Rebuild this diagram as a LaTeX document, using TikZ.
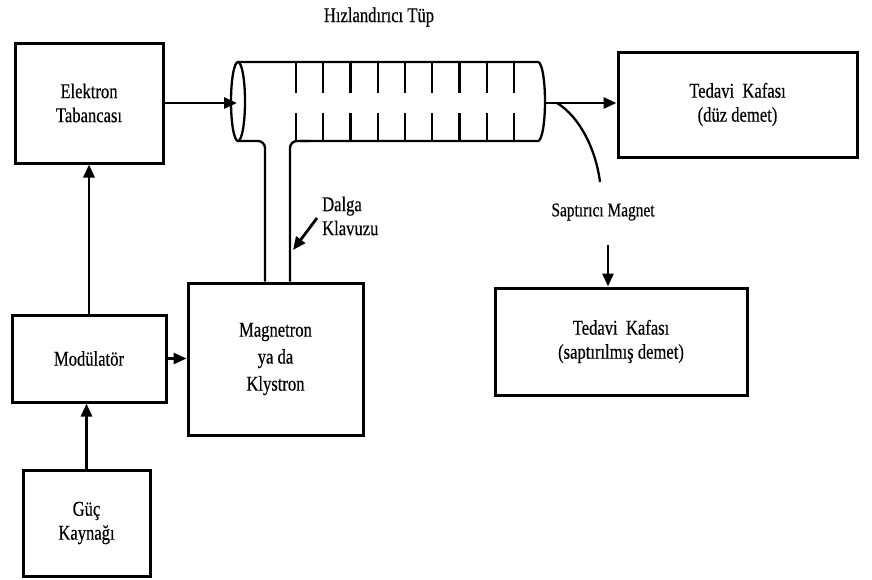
\documentclass[tikz,border=0pt]{standalone}
\usepackage{fontspec}
\setmainfont{Liberation Serif}[FakeStretch=0.79, FakeBold=0.4]
\usetikzlibrary{arrows.meta}

\begin{document}
\begin{tikzpicture}[
    x=1pt, y=-1pt,
    every node/.style={font=\fontsize{21}{24}\selectfont, align=center},
    box/.style={draw, line width=3pt, inner sep=0pt},
    small/.style={font=\fontsize{19.5}{22}\selectfont},
    flow/.style={-{Triangle[length=13pt,width=11pt]}, line width=2.8pt},
    tube/.style={line width=2.3pt}
]
\useasboundingbox (0,0) rectangle (872,579);
% blocks
\node[box, minimum width=148pt, minimum height=120pt] (gun) at (89,103) {Elektron\\Tabancası};
\node[box, minimum width=154pt, minimum height=87pt] (mod) at (89,358.5) {Modülatör};
\node[box, minimum width=127pt, minimum height=106pt] (power) at (86.5,523) {Güç\\Kaynağı};
\node[box, minimum width=175pt, minimum height=152pt] (mag) at (275.5,359) {Magnetron\\[3pt]ya da\\[3pt]Klystron};
\node[box, minimum width=239pt, minimum height=105pt] (straight) at (737.5,104.5) {Tedavi\ \ Kafası\\(düz demet)};
\node[box, minimum width=252pt, minimum height=107pt] (bent) at (621,341.5) {Tedavi\ \ Kafası\\(saptırılmış demet)};
% labels
\node (title) at (379,17) {Hızlandırıcı Tüp};
\node[small] (maglbl) at (603,212) {Saptırıcı Magnet};
\node[anchor=west, align=left, inner sep=0pt] (wglbl) at (322,216) {Dalga\\Klavuzu};
% accelerator tube and waveguide
\coordinate (wgl) at (265,141);
\coordinate (wgr) at (290,141);
\draw[tube] (238,101.5) ellipse [x radius=7pt, y radius=39.5pt];
\draw[tube] (238,62) -- (538,62) arc[start angle=90, end angle=-90, x radius=7pt, y radius=39.5pt] -- (300,141);
\draw[tube, rounded corners=7pt] (238,141) -- (wgl) -- (wgl |- mag.north);
\draw[tube, rounded corners=7pt] (310,141) -- (wgr) -- (wgr |- mag.north);
\foreach \i in {0,...,8} {
    \draw[tube] (296+27.25*\i,62) -- ++(0,31);
    \draw[tube] (296+27.25*\i,113) -- (296+27.25*\i,141);
}
\coordinate (tubein) at (237,103);
\coordinate (tubeout) at (545,103);
\coordinate (bendA) at (557,103);
\coordinate (bendB) at (600,182);
\coordinate (magtip) at (608,245);
\coordinate (wgtail) at (317,218);
\coordinate (wgtip) at (293,250);
% connectors
\draw[flow] (gun.east) -- (gun.east -| tubein);
\draw[flow] (tubeout) -- (tubeout -| straight.west);
\draw[tube] (bendA) .. controls (580,117) and (596,150) .. (bendB);
\draw[flow] (magtip) -- (magtip |- bent.north);
\draw[flow] (wgtail) -- (wgtip);
\draw[flow] (mod.north) -- (gun.south);
\draw[flow] (power.north) -- (power.north |- mod.south);
\draw[flow] (mod.east) -- (mod.east -| mag.west);
\end{tikzpicture}
\end{document}
